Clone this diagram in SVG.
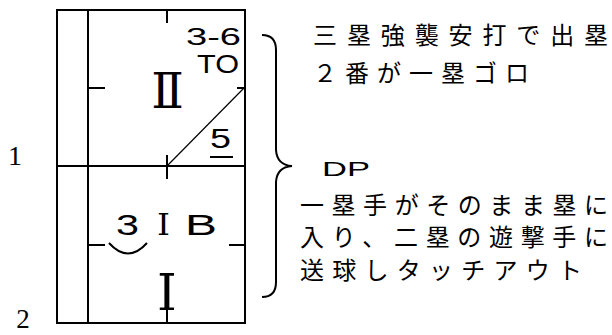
<svg xmlns="http://www.w3.org/2000/svg" width="612" height="335" viewBox="0 0 612 335">
<style>
.ln{stroke:#000;stroke-width:2;fill:none}
.thin{stroke:#000;stroke-width:1.2;fill:none}
.sans{font-family:"Liberation Sans",Arial,sans-serif;fill:#000}
.serif{font-family:"Liberation Serif","Times New Roman",serif;fill:#000}
.roman{font-family:"DejaVu Serif","Liberation Serif",serif;fill:#000}
.jp{font-family:"Noto Sans CJK JP",sans-serif;font-size:24px;fill:#000}
</style>
<rect width="612" height="335" fill="#fff"/>
<g id="frame">
<rect class="ln" x="57" y="10" width="188" height="313"/>
<line class="ln" x1="88" y1="10" x2="88" y2="323"/>
<line class="ln" x1="57" y1="166" x2="245" y2="166"/>
<line class="ln" x1="167" y1="10" x2="167" y2="23"/>
<line class="ln" x1="167" y1="155" x2="167" y2="179"/>
<line class="ln" x1="167" y1="305" x2="167" y2="323"/>
<line class="ln" x1="88" y1="88" x2="105" y2="88"/>
<line class="ln" x1="237" y1="88" x2="245" y2="88"/>
<line class="ln" x1="88" y1="245" x2="105" y2="245"/>
<line class="ln" x1="229" y1="245" x2="245" y2="245"/>
</g>
<g id="upper-box">
<line class="thin" x1="167" y1="166" x2="244" y2="88"/>
<text class="sans" x="186" y="45" font-size="24" textLength="55" lengthAdjust="spacingAndGlyphs">3-6</text>
<text class="sans" x="197" y="73" font-size="25" textLength="42" lengthAdjust="spacingAndGlyphs">TO</text>
<text class="roman" x="167.5" y="108" font-size="48" text-anchor="middle">Ⅱ</text>
<text class="sans" x="210" y="148" font-size="28" textLength="21" lengthAdjust="spacingAndGlyphs">5</text>
<line class="ln" x1="210" y1="157" x2="233" y2="157"/>
</g>
<g id="lower-box">
<text class="sans" x="116" y="235" font-size="30" textLength="23" lengthAdjust="spacingAndGlyphs">3</text>
<text class="roman" x="157" y="235" font-size="30" textLength="13" lengthAdjust="spacingAndGlyphs">I</text>
<text class="sans" x="185" y="235" font-size="30" textLength="32" lengthAdjust="spacingAndGlyphs">B</text>
<path class="ln" d="M109,243 Q128,264 147,243" stroke-width="1.8"/>
<text class="roman" x="167" y="310" font-size="50" text-anchor="middle">Ⅰ</text>
</g>
<g id="side-labels">
<text class="serif" x="15" y="165" font-size="28" text-anchor="middle">1</text>
<text class="serif" x="23" y="328" font-size="27" text-anchor="middle">2</text>
</g>
<g id="connectors">
<path class="ln" d="M262,35 Q276,35 276,50 L276,150 Q277,165 292,166 Q277,167 276,182 L276,282 Q276,297 262,297"/>
</g>
<g id="notes">
<text class="jp" x="313" y="44" textLength="295" lengthAdjust="spacing">三塁強襲安打で出塁</text>
<text class="jp" x="313" y="82" textLength="216" lengthAdjust="spacing">２番が一塁ゴロ</text>
<text class="sans" x="322" y="176" font-size="21" textLength="48" lengthAdjust="spacingAndGlyphs">DP</text>
<text class="jp" x="300" y="214" textLength="308" lengthAdjust="spacing">一塁手がそのまま塁に</text>
<text class="jp" x="300" y="246" textLength="308" lengthAdjust="spacing">入り、二塁の遊撃手に</text>
<text class="jp" x="300" y="279" textLength="282" lengthAdjust="spacing">送球しタッチアウト</text>
</g>
</svg>
